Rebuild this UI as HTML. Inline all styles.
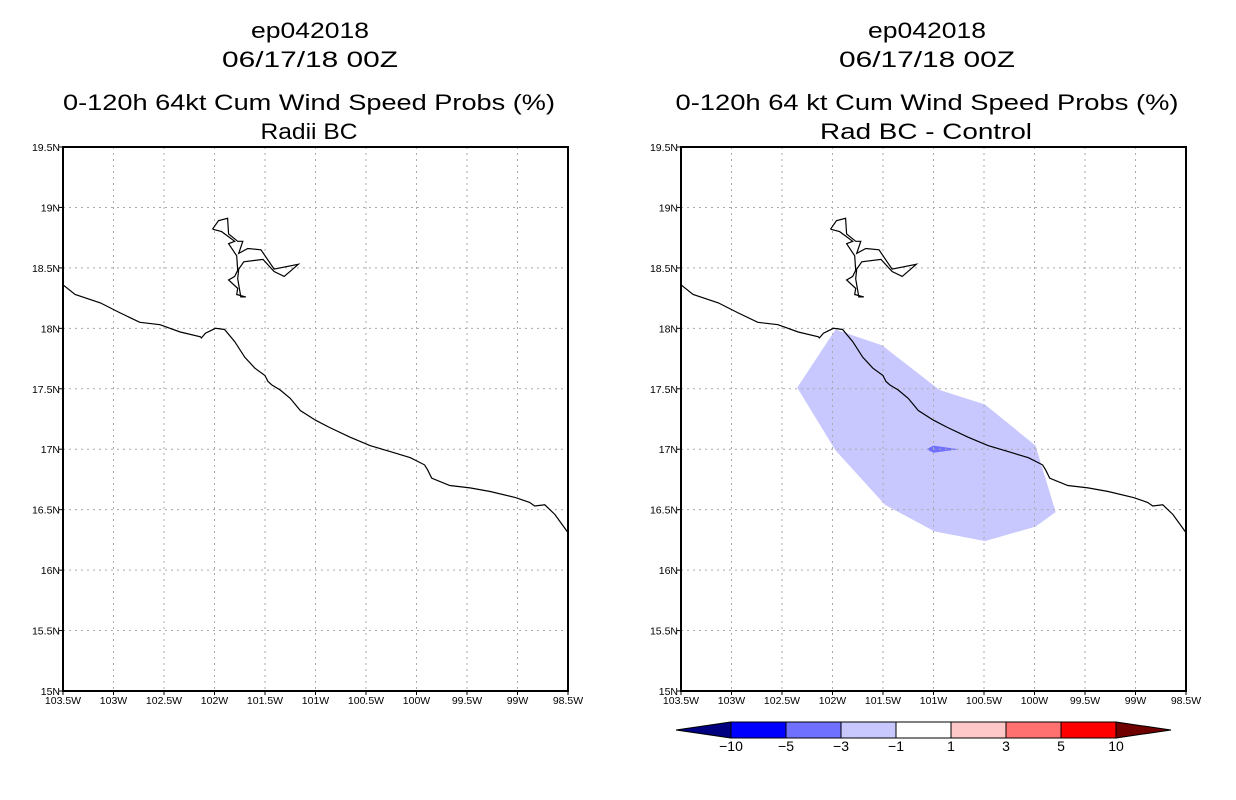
<!DOCTYPE html>
<html><head><meta charset="utf-8"><style>
html,body{margin:0;padding:0;background:#fff;}
svg{display:block;font-family:"Liberation Sans",sans-serif;}
</style></head><body>
<svg id="svg" width="1236" height="800" viewBox="0 0 1236 800">
<g font-size="22" text-anchor="middle" fill="#000">
<text x="310" y="38" textLength="118" lengthAdjust="spacingAndGlyphs">ep042018</text>
<text x="310" y="67" textLength="176" lengthAdjust="spacingAndGlyphs">06/17/18 00Z</text>
<text x="309" y="110" textLength="492" lengthAdjust="spacingAndGlyphs">0-120h 64kt Cum Wind Speed Probs (%)</text>
<text x="309" y="139" textLength="97" lengthAdjust="spacingAndGlyphs">Radii BC</text>
</g>
<g font-size="22" text-anchor="middle" fill="#000">
<text x="927" y="38" textLength="118" lengthAdjust="spacingAndGlyphs">ep042018</text>
<text x="927" y="67" textLength="176" lengthAdjust="spacingAndGlyphs">06/17/18 00Z</text>
<text x="927" y="110" textLength="503" lengthAdjust="spacingAndGlyphs">0-120h 64 kt Cum Wind Speed Probs (%)</text>
<text x="926" y="139" textLength="212" lengthAdjust="spacingAndGlyphs">Rad BC - Control</text>
</g>
<g id="left"></g>
<g id="right"></g>
<g id="cbar"></g>
</svg>
<script>
const latTicks=[15,15.5,16,16.5,17,17.5,18,18.5,19,19.5];
const latLabels=["15N","15.5N","16N","16.5N","17N","17.5N","18N","18.5N","19N","19.5N"];
const lonTicks=[-103.5,-103,-102.5,-102,-101.5,-101,-100.5,-100,-99.5,-99,-98.5];
const lonLabels=["103.5W","103W","102.5W","102W","101.5W","101W","100.5W","100W","99.5W","99W","98.5W"];
const coastLon=[-103.5,-103.38,-103.13,-102.94,-102.74,-102.54,-102.34,-102.14,-102.13,-102.09,-101.99,-101.9,-101.8,-101.7,-101.6,-101.5,-101.47,-101.43,-101.35,-101.25,-101.15,-101.0,-100.86,-100.66,-100.46,-100.26,-100.06,-99.92,-99.89,-99.85,-99.67,-99.47,-99.27,-99.02,-98.88,-98.83,-98.73,-98.63,-98.5];
const coastLat=[18.36,18.28,18.21,18.13,18.05,18.03,17.97,17.93,17.92,17.96,18.0,17.99,17.89,17.76,17.67,17.61,17.56,17.53,17.49,17.42,17.32,17.24,17.18,17.10,17.03,16.98,16.93,16.87,16.83,16.76,16.70,16.68,16.65,16.60,16.56,16.53,16.54,16.46,16.31];
const riverLon=[-102.02,-101.96,-101.87,-101.86,-101.77,-101.72,-101.76,-101.67,-101.54,-101.41,-101.17,-101.31,-101.41,-101.52,-101.71,-101.76,-101.77,-101.74,-101.69,-101.78,-101.77,-101.86,-101.80,-101.77,-101.78,-101.86,-101.80,-101.93,-102.02];
const riverLat=[18.82,18.89,18.91,18.78,18.72,18.72,18.62,18.66,18.65,18.49,18.53,18.43,18.47,18.57,18.55,18.49,18.41,18.26,18.26,18.28,18.33,18.40,18.43,18.48,18.60,18.70,18.72,18.80,18.82];
const diffOuterLon=[-102.35,-101.97,-101.51,-100.94,-100.49,-99.99,-99.79,-99.99,-100.49,-100.99,-101.48,-101.97];
const diffOuterLat=[17.51,17.99,17.86,17.49,17.37,17.03,16.48,16.36,16.24,16.32,16.54,16.99];
const diffInnerLon=[-101.07,-101.0,-100.75,-101.0];
const diffInnerLat=[17.0,17.03,17.0,16.97];
const cbLevels=["-10","-5","-3","-1","1","3","5","10"];
const cbColors=["#000080","#0000ff","#7070ff","#c8c8ff","#ffffff","#ffc8c8","#ff7070","#ff0000","#700000"];

const NS="http://www.w3.org/2000/svg";
function mk(tag,attrs,parent){const e=document.createElementNS(NS,tag);for(const k in attrs)e.setAttribute(k,attrs[k]);parent.appendChild(e);return e;}
function drawPanel(g,x0,withDiff){
  const W=505,H=544,y0=147;
  const X=lon=>x0+(lon+103.5)/5*W;
  const Y=lat=>y0+H-(lat-15)/4.5*H;
  const pts=(a,b)=>a.map((v,i)=>X(v).toFixed(1)+","+Y(b[i]).toFixed(1)).join(" ");
  if(withDiff){
    const p1=mk("polygon",{points:pts(diffOuterLon,diffOuterLat),fill:"#c8c8ff"},g);
    
    
    const p2=mk("polygon",{points:pts(diffInnerLon,diffInnerLat),fill:"#7070ff"},g);
    
    
  }
  latTicks.forEach((t,i)=>{
    const y=Y(t);
    if(i>0&&i<latTicks.length-1){const l=mk("line",{x1:x0,x2:x0+W,y1:y,y2:y,stroke:"#aaa","stroke-dasharray":"2,4"},g);
      }
    mk("line",{x1:x0-4,x2:x0,y1:y,y2:y,stroke:"#000"},g);
    const tx=mk("text",{x:x0-3,y:y+4,"font-size":"10.5","text-anchor":"end"},g);
    tx.textContent=latLabels[i];
    
  });
  lonTicks.forEach((t,i)=>{
    const x=X(t);
    if(i>0&&i<lonTicks.length-1){const l=mk("line",{x1:x,x2:x,y1:y0,y2:y0+H,stroke:"#aaa","stroke-dasharray":"2,4"},g);
      }
    mk("line",{x1:x,x2:x,y1:y0+H,y2:y0+H+4,stroke:"#000"},g);
    const tx=mk("text",{x:x,y:y0+H+13,"font-size":"10.5","text-anchor":"middle"},g);
    tx.textContent=lonLabels[i];
    
  });
  const c=mk("polyline",{points:pts(coastLon,coastLat),fill:"none",stroke:"#000","stroke-width":"1.2"},g);
  
  const r=mk("polyline",{points:pts(riverLon,riverLat),fill:"none",stroke:"#000","stroke-width":"1.2"},g);
  
  const f=mk("rect",{x:x0,y:y0,width:W,height:H,fill:"none",stroke:"#000","stroke-width":"2"},g);
  
}
drawPanel(document.getElementById("left"),63,false);
drawPanel(document.getElementById("right"),681,true);

const cb=document.getElementById("cbar");
const cx0=731,bw=55,cy=722,ch=16;
const tl=mk("polygon",{points:`${cx0},${cy} ${cx0},${cy+ch} 676,${cy+ch/2}`,fill:cbColors[0],stroke:"#000"},cb);

for(let i=0;i<cbLevels.length-1;i++){
  const r=mk("rect",{x:cx0+i*bw,y:cy,width:bw,height:ch,fill:cbColors[i+1],stroke:"#000"},cb);
  
}
const xe=cx0+(cbLevels.length-1)*bw;
const tr=mk("polygon",{points:`${xe},${cy} ${xe},${cy+ch} ${xe+55},${cy+ch/2}`,fill:cbColors[8],stroke:"#000"},cb);

cbLevels.forEach((l,i)=>{
  const t=mk("text",{x:cx0+i*bw,y:cy+ch+13,"font-size":"14","text-anchor":"middle"},cb);
  t.textContent=l.replace("-","\u2212");
  
});
</script>
</body></html>
